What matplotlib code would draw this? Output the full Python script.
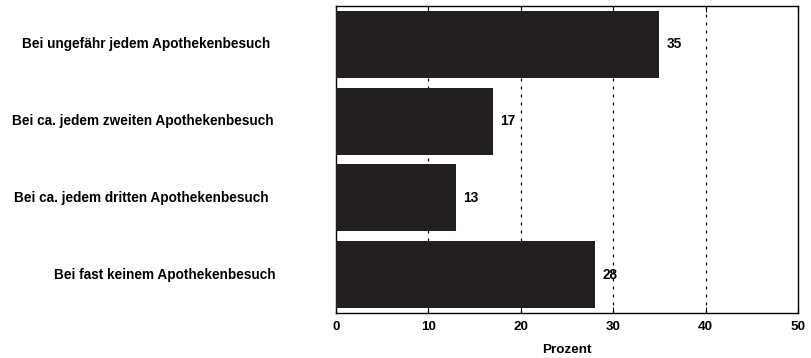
import matplotlib
matplotlib.use("Agg")
import matplotlib.pyplot as plt

categories = ["Bei ungefähr jedem Apothekenbesuch",
              "Bei ca. jedem zweiten Apothekenbesuch",
              "Bei ca. jedem dritten Apothekenbesuch",
              "Bei fast keinem Apothekenbesuch"]
values = [35, 17, 13, 28]
xticks = [0, 10, 20, 30, 40, 50]

plt.rcParams['font.family'] = ['Liberation Sans', 'DejaVu Sans']
plt.rcParams['font.weight'] = 'bold'

fig = plt.figure(figsize=(8.12, 3.58), dpi=100)
W, H = 812, 358
ax = fig.add_axes([336 / W, 1 - 313 / H, (798 - 336) / W, (313 - 6) / H])

ypos = list(range(len(categories)))
ax.barh(ypos, values, height=0.87, color="#231f20", zorder=3)
ax.set_ylim(3.5, -0.5)
ax.set_xlim(0, 50)
ax.set_xticks(xticks)
ax.set_xticklabels([str(t) for t in xticks], fontsize=9.7, fontweight='bold')
ax.tick_params(axis='x', direction='in', length=4, top=True, bottom=True, width=0.8, pad=6)
ax.set_yticks([])
for gx in xticks[1:-1]:
    ax.axvline(gx, color='black', linestyle=(0, (2.4, 4)), linewidth=0.9, zorder=1)

for y, v in zip(ypos, values):
    ax.text(v + 0.8, y, str(v), va='center', ha='left', fontsize=9.8, fontweight='bold', zorder=4)

label_cx = [146, 143, 141, 165]  # label centres in figure pixels
for y, c, cx in zip(ypos, categories, label_cx):
    ax.text(cx / W, y, c, transform=matplotlib.transforms.blended_transform_factory(fig.transFigure, ax.transData),
            va='center', ha='center', fontsize=9.8, fontweight='bold')

for s in ax.spines.values():
    s.set_linewidth(1.0)

ax.set_xlabel("Prozent", fontsize=9.7, fontweight='bold', labelpad=8)

fig.savefig("out.png", dpi=100)
